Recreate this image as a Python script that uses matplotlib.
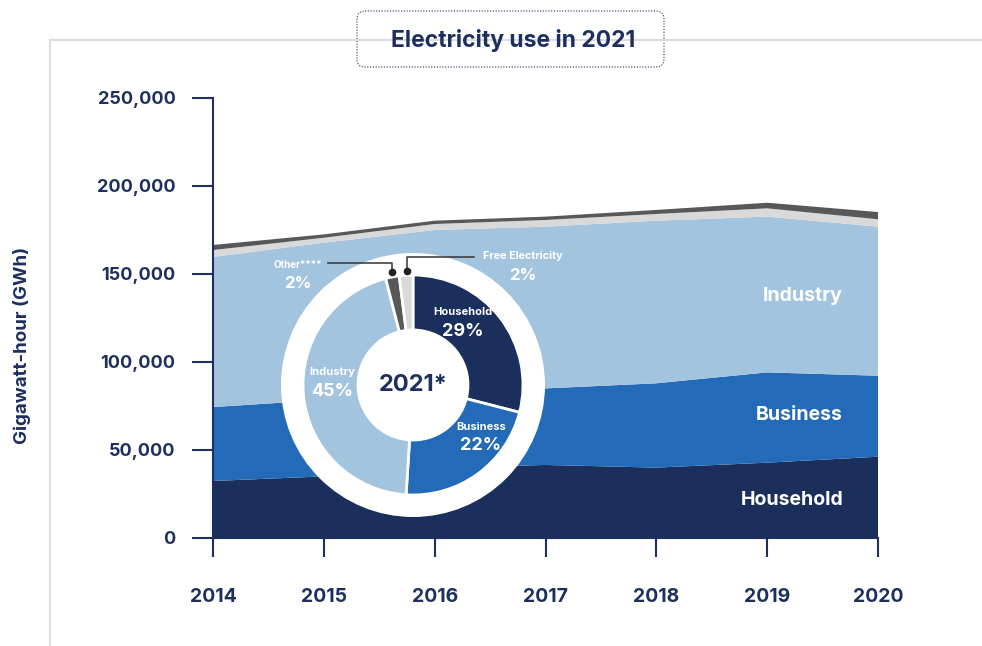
import matplotlib.pyplot as plt
from matplotlib.patches import Circle, FancyBboxPatch

plt.rcParams['font.family'] = ['Inter', 'DejaVu Sans']

# annual electricity use by sector, GWh
years = [2014, 2015, 2016, 2017, 2018, 2019, 2020]
household = [32400, 35000, 40000, 41500, 40000, 42800, 46200]
business = [42000, 43400, 42000, 43500, 47900, 51300, 46000]
industry = [85300, 89400, 93000, 91900, 92400, 88500, 84700]
free_elec = [3900, 2800, 3400, 3800, 3800, 4700, 4200]
other = [2900, 1900, 1900, 1900, 2300, 3200, 4100]

y_ticks = [0, 50000, 100000, 150000, 200000, 250000]
y_tick_labels = ['0', '50,000', '100,000', '150,000', '200,000', '250,000']

# 2021 shares (%)
share_names = ['Household', 'Business', 'Industry', 'Other****', 'Free Electricity']
share_values = [29, 22, 45, 2, 2]

NAVY = '#1c2f5e'
C_HOUSE = '#1b2f5c'
C_BUS = '#236bb8'
C_IND = '#a3c4de'
C_FREE = '#d9d9d9'
C_OTHER = '#585858'

W, H = 982, 646
fig = plt.figure(figsize=(W / 100, H / 100), dpi=100)

# background layer in pixel units: frame lines and title box
bg = fig.add_axes([0, 0, 1, 1])
bg.set_xlim(0, W)
bg.set_ylim(H, 0)
bg.axis('off')
bg.plot([50, W], [40, 40], color='#dddddd', lw=1.5)
bg.plot([50, 50], [40, H], color='#dddddd', lw=1.5)
box = FancyBboxPatch((357, 11), 307, 56, boxstyle='round,pad=0,rounding_size=8',
                     fc='white', ec=NAVY, lw=0.8, ls=(0, (1, 1.5)))
bg.add_patch(box)
bg.text(513, 40, 'Electricity use in 2021', ha='center', va='center',
        fontsize=16.5, fontweight='bold', color=NAVY)

# stacked area
ax = fig.add_axes([213 / W, 1 - 538 / H, (878 - 213) / W, (538 - 98) / H])
ax.patch.set_alpha(0)
ax.stackplot(years, household, business, industry, free_elec, other,
             colors=[C_HOUSE, C_BUS, C_IND, C_FREE, C_OTHER], lw=0)
ax.set_xlim(2014, 2020)
ax.set_ylim(0, 250000)
ax.set_xticks(years)
ax.set_yticks(y_ticks)
ax.set_yticklabels(y_tick_labels)
for s in ['top', 'right']:
    ax.spines[s].set_visible(False)
for s in ['left', 'bottom']:
    ax.spines[s].set_color(NAVY)
    ax.spines[s].set_linewidth(1.5)
ax.tick_params(axis='y', length=15, width=1.5, color=NAVY, pad=12,
               labelsize=13, labelcolor=NAVY)
ax.tick_params(axis='x', length=14, width=1.5, color=NAVY, pad=22,
               labelsize=14, labelcolor=NAVY)
for lbl in ax.get_xticklabels() + ax.get_yticklabels():
    lbl.set_fontweight('bold')

fig.text(22 / W, 1 - 345 / H, 'Gigawatt-hour (GWh)', rotation=90, ha='center',
         va='center', fontsize=13.5, fontweight='bold', color=NAVY)

# sector names on the right end of the areas
for name, ypx in [('Industry', 296), ('Business', 415), ('Household', 500)]:
    fig.text(843 / W, 1 - ypx / H, name, ha='right', va='center', fontsize=14,
             fontweight='bold', color='white')

# 2021 donut
cx, cy = 413, 385
dax = fig.add_axes([(cx - 150) / W, 1 - (cy + 150) / H, 300 / W, 300 / H])
dax.add_patch(Circle((0, 0), 132, fc='white', ec='none'))
dax.pie(share_values, radius=110, startangle=90, counterclock=False,
        colors=[C_HOUSE, C_BUS, C_IND, C_OTHER, C_FREE],
        wedgeprops=dict(width=55, edgecolor='white', linewidth=2))
dax.set_xlim(-150, 150)
dax.set_ylim(-150, 150)
dax.set_aspect('equal')
dax.axis('off')


def d(x, y):
    return x - cx, cy - y


def share_label(x, y, name, val, size_name=8, size_val=13, gap=19):
    dax.text(*d(x, y), name, ha='center', va='center', fontsize=size_name,
             fontweight='bold', color='white')
    dax.text(*d(x, y + gap), f'{val}%', ha='center', va='center',
             fontsize=size_val, fontweight='bold', color='white')


share_label(463, 312, share_names[0], share_values[0])
share_label(481, 427, share_names[1], share_values[1])
share_label(332, 372, share_names[2], share_values[2])
share_label(298, 265, share_names[3], share_values[3], size_name=7, size_val=12)
share_label(523, 256, share_names[4], share_values[4], size_name=7.8, size_val=12)

dax.text(0, 0, '2021*', ha='center', va='center', fontsize=17,
         fontweight='bold', color=NAVY)

# leader lines for the thin slices
ox, oy = zip(d(328, 263), d(392, 263), d(392, 272))
dax.plot(ox, oy, color='#333333', lw=1.1)
dax.plot(*d(392, 272), 'o', ms=4.5, color='#222222')
fx, fy = zip(d(407, 271), d(407, 257), d(474, 257))
dax.plot(fx, fy, color='#333333', lw=1.1)
dax.plot(*d(407, 271), 'o', ms=4.5, color='#222222')

fig.savefig('out.png', dpi=100)
